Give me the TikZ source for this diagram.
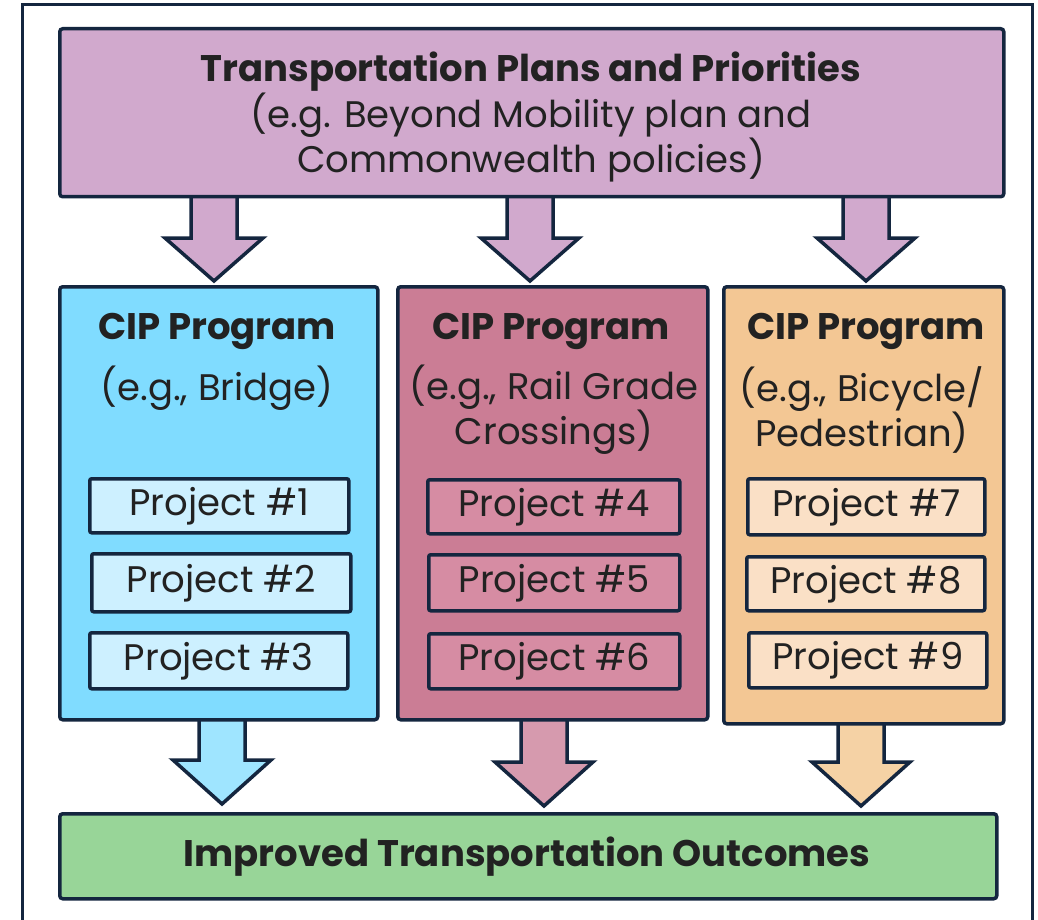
\documentclass[tikz,border=0pt]{standalone}
\usepackage{fontspec}
\setmainfont{Poppins}
\definecolor{navy}{HTML}{14263F}
\definecolor{txt}{HTML}{222222}
\definecolor{topfill}{HTML}{D1A9CD}
\definecolor{bluebox}{HTML}{80DCFF}
\definecolor{blueproj}{HTML}{CDF0FF}
\definecolor{bluearrow}{HTML}{9FE5FF}
\definecolor{pinkbox}{HTML}{CB7D95}
\definecolor{pinkproj}{HTML}{D68CA3}
\definecolor{pinkarrow}{HTML}{D69AAE}
\definecolor{orangebox}{HTML}{F3C794}
\definecolor{orangeproj}{HTML}{FAE0C6}
\definecolor{orangearrow}{HTML}{F5D2A5}
\definecolor{greenbox}{HTML}{98D598}
\tikzset{
  box/.style={draw=navy, line width=3.5pt, rounded corners=3pt, inner sep=0pt, anchor=north west},
  proj/.style={draw=navy, line width=3.5pt, rounded corners=2pt, inner sep=0pt, anchor=north west, text=txt, font=\fontsize{37}{40}\selectfont},
  big/.style={text=txt, font=\fontsize{37}{45}\selectfont, align=center, inner sep=0pt},
  bigb/.style={text=txt, font=\bfseries\fontsize{37}{45}\selectfont, align=center, inner sep=0pt},
  arr/.style={draw=navy, line width=3.5pt, line join=miter},
}
\begin{document}
\begin{tikzpicture}[x=1pt,y=-1pt]
\useasboundingbox (0,0) rectangle (1038,920);
\clip (0,0) rectangle (1038,920);
\fill[white] (0,0) rectangle (1038,920);
\draw[navy, line width=3pt] (22,5) rectangle (1032,940);
% arrows (drawn first, under boxes)
\foreach \cx/\col in {214/topfill,530/topfill,866/topfill}{
  \draw[arr, fill=\col] (\cx-23,195) -- (\cx-23,238) -- (\cx-49,238) -- (\cx,281) -- (\cx+49,238) -- (\cx+23,238) -- (\cx+23,195);
}
\draw[arr, fill=bluearrow] (222-23,718) -- (222-23,760) -- (222-49,760) -- (222,804) -- (222+49,760) -- (222+23,760) -- (222+23,718);
\draw[arr, fill=pinkarrow] (544-23,718) -- (544-23,762) -- (544-49,762) -- (544,806) -- (544+49,762) -- (544+23,762) -- (544+23,718);
\draw[arr, fill=orangearrow] (861-23,722) -- (861-23,762) -- (861-49,762) -- (861,806) -- (861+49,762) -- (861+23,762) -- (861+23,722);
% top box
\node[box, fill=topfill, minimum width=944pt, minimum height=168pt] (top) at (58,27) {};
\node[bigb] (toptitle) at (531,72) {Transportation Plans and Priorities};
\node[big] (topsub) at (531,138) {(e.g. Beyond Mobility plan and\\Commonwealth policies)};
% CIP boxes
\node[box, fill=bluebox, minimum width=318pt, minimum height=433pt] (cipA) at (58,285) {};
\node[box, fill=pinkbox, minimum width=310pt, minimum height=433pt] (cipB) at (396,285) {};
\node[box, fill=orangebox, minimum width=280pt, minimum height=437pt] (cipC) at (722,285) {};
\node[bigb] (tA) at (217,331) {CIP Program};
\node[bigb] (tB) at (551,331) {CIP Program};
\node[bigb] (tC) at (866,331) {CIP Program};
\node[big] (sA) at (217,388) {(e.g., Bridge)};
\node[big] (sB) at (554,410) {(e.g., Rail Grade\\Crossings)};
\node[big] (sC) at (862,410) {(e.g., Bicycle/\\Pedestrian)};
% projects
\node[proj, fill=blueproj, minimum width=259pt, minimum height=54pt] (p1) at (88,477) {Project \#1};
\node[proj, fill=blueproj, minimum width=259pt, minimum height=58pt] (p2) at (90,552) {Project \#2};
\node[proj, fill=blueproj, minimum width=258pt, minimum height=56pt] (p3) at (88,631) {Project \#3};
\node[proj, fill=pinkproj, minimum width=252pt, minimum height=54pt] (p4) at (426,478) {Project \#4};
\node[proj, fill=pinkproj, minimum width=251pt, minimum height=56pt] (p5) at (427,553) {Project \#5};
\node[proj, fill=pinkproj, minimum width=251pt, minimum height=55pt] (p6) at (427,632) {Project \#6};
\node[proj, fill=orangeproj, minimum width=237pt, minimum height=56pt] (p7) at (746,477) {Project \#7};
\node[proj, fill=orangeproj, minimum width=238pt, minimum height=54pt] (p8) at (745,555) {Project \#8};
\node[proj, fill=orangeproj, minimum width=238pt, minimum height=55pt] (p9) at (747,631) {Project \#9};
% bottom box
\node[box, fill=greenbox, minimum width=937pt, minimum height=85pt] (bot) at (58,812) {};
\node[bigb] (bottxt) at (527,857) {Improved Transportation Outcomes};
\end{tikzpicture}
\end{document}
